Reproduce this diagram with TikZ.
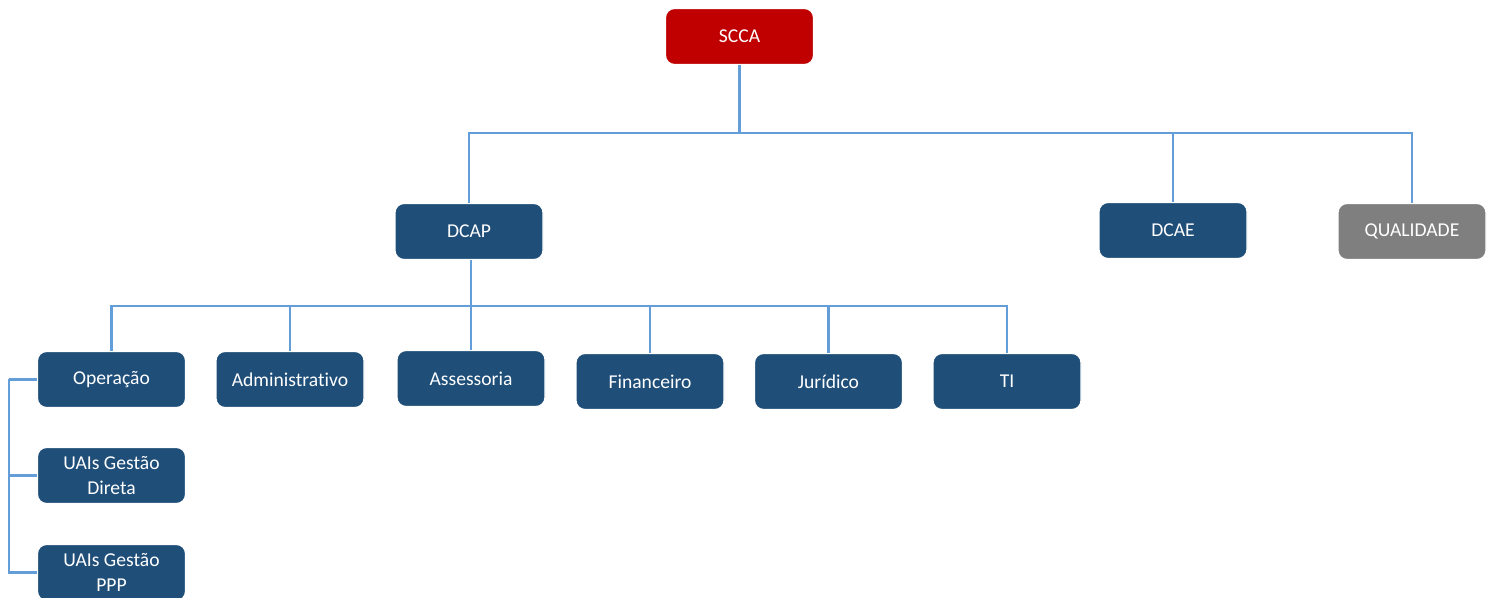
\documentclass[tikz,border=0pt]{standalone}
\usepackage{fontspec}
\setmainfont{Carlito}[Ligatures={NoCommon}]
\definecolor{boxblue}{RGB}{31,78,121}
\definecolor{boxred}{RGB}{192,0,0}
\definecolor{boxgray}{RGB}{127,127,127}
\definecolor{linkblue}{RGB}{100,158,216}
\begin{document}
\begin{tikzpicture}[x=0.5pt,y=-0.5pt,
  orgbox/.style={draw=white, line width=0.6pt, rounded corners=4.5pt, minimum width=74pt, minimum height=28pt,
    text=white, font=\fontsize{9.8}{12.5}\selectfont, align=center, inner sep=1pt, fill=boxblue},
  redbox/.style={orgbox, fill=boxred},
  graybox/.style={orgbox, fill=boxgray},
  link/.style={draw=linkblue, line width=1.1pt}]
\useasboundingbox (0,0) rectangle (1496,598);
% level 0
\node[redbox] (scca) at (739.5,36.5) {SCCA};
% level 1
\node[orgbox] (dcap) at (469,231.5) {DCAP};
\node[orgbox] (dcae) at (1173,230.5) {DCAE};
\node[graybox] (qual) at (1412,231.5) {QUALIDADE};
% level 2
\node[orgbox] (op) at (111.5,379.5) {Operação};
\node[orgbox] (adm) at (290,379.5) {Administrativo};
\node[orgbox] (ass) at (471,378.5) {Assessoria};
\node[orgbox] (fin) at (650,381.5) {Financeiro};
\node[orgbox] (jur) at (828.5,381.5) {Jurídico};
\node[orgbox] (ti) at (1007,381.5) {TI};
% level 3
\node[orgbox] (uad) at (111.5,475.5) {UAIs Gestão\\Direta};
\node[orgbox] (uap) at (111.5,572.5) {UAIs Gestão\\PPP};
% buses
\coordinate (bus1) at (739.5,133);
\coordinate (bus2) at (471,306);
\coordinate (lbus) at (9,379.5);
% connectors
\draw[link] (scca.south) -- (bus1);
\draw[link] (dcap.north) |- (bus1);
\draw[link] (dcae.north) |- (bus1);
\draw[link] (qual.north) |- (bus1);
\draw[link] (dcap.south -| bus2) -- (bus2);
\draw[link] (op.north) |- (bus2);
\draw[link] (adm.north) |- (bus2);
\draw[link] (ass.north) -- (bus2);
\draw[link] (fin.north) |- (bus2);
\draw[link] (jur.north) |- (bus2);
\draw[link] (ti.north) |- (bus2);
\draw[link] (op.west) -- (lbus);
\draw[link] (uad.west) -| (lbus);
\draw[link] (uap.west) -| (lbus);
\end{tikzpicture}
\end{document}
